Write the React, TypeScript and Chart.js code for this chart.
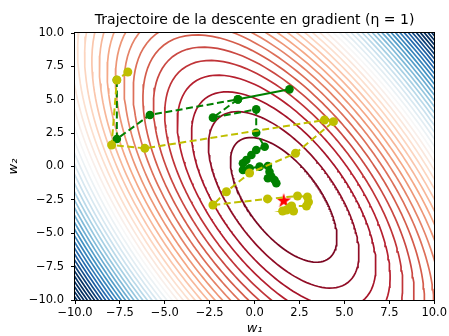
import React, { useEffect, useRef } from 'react';
import { Chart, registerables } from 'chart.js';

Chart.register(...registerables);

// ---- text ----
const TITLE = 'Trajectoire de la descente en gradient (η = 1)';
const X_LABEL = 'w₁';
const Y_LABEL = 'w₂';
const X_TICKS = [-10, -7.5, -5, -2.5, 0, 2.5, 5, 7.5, 10];
const Y_TICKS = [-10, -7.5, -5, -2.5, 0, 2.5, 5, 7.5, 10];

// ---- cost surface: f(w) = A dx^2 + 2B dx dy + C dy^2 around the minimum ----
const MIN_W1 = [1.62];
const MIN_W2 = [-2.5];
const COST_A = 0.184;
const COST_B = 0.072;
const COST_C = 0.074;
const LEVELS = [1, 2, 3, 4, 5, 6, 7, 8, 9, 10, 11, 12, 13, 14, 15, 16, 17, 18, 19, 20,
  21, 22, 23, 24, 25, 26, 27, 28, 29, 30, 31, 32, 33, 34, 35, 36, 37, 38, 39, 40, 41, 42];
const LEVEL_MIN = 0;
const LEVEL_MAX = 36;

// ---- trajectories ----
const GREEN_W1 = [-7.67, -7.67, -5.83, -0.93, 1.94, -0.93, -2.32, 0.09, 0.09,
  0.56, 0.09, -0.18, -0.46, -0.65, -0.65, -0.28, 0.28, 0.74, 0.83, 0.74, 0.93, 1.11, 1.21];
const GREEN_W2 = [6.48, 2.06, 3.86, 5.03, 5.78, 5.03, 3.66, 4.28, 2.53,
  1.48, 1.24, 0.86, 0.49, 0.24, -0.26, -0.13, -0.01, 0.04, -0.39, -0.88, -0.76, -1.01, -1.26];

const YELLOW_W1 = [-7.06, -7.67, -7.96, -6.11, 3.89, 4.39, 2.28, -0.28, -1.57, -2.32,
  0.72, 2.39, 2.94, 3.0, 2.89, 2.06, 1.78, 1.56, 2.17, 1.94];
const YELLOW_W2 = [7.08, 6.48, 1.61, 1.36, 3.48, 3.36, 0.99, -0.49, -1.89, -2.88,
  -2.43, -2.21, -2.28, -2.66, -2.96, -2.96, -3.26, -3.33, -3.33, -3.11];

// ---- colours ----
const RDBU = ['#67001f', '#b2182b', '#d6604d', '#f4a582', '#fddbc7', '#f7f7f7',
  '#d1e5f0', '#92c5de', '#4393c3', '#2166ac', '#053061'];
const GREEN = '#008000';
const YELLOW = '#bfbf00';
const STAR_RED = '#ff0000';

function hexToRgb(h: string) {
  return [parseInt(h.slice(1, 3), 16), parseInt(h.slice(3, 5), 16), parseInt(h.slice(5, 7), 16)];
}
function rdbu(t: number) {
  const tt = Math.min(1, Math.max(0, t)) * (RDBU.length - 1);
  const i = Math.min(RDBU.length - 2, Math.floor(tt));
  const f = tt - i;
  const a = hexToRgb(RDBU[i]);
  const b = hexToRgb(RDBU[i + 1]);
  const c = a.map((v, k) => Math.round(v + (b[k] - v) * f));
  return `rgb(${c[0]},${c[1]},${c[2]})`;
}

function contourRing(level: number) {
  const pts: { x: number; y: number }[] = [];
  const n = 240;
  for (let i = 0; i <= n; i++) {
    const th = (i / n) * Math.PI * 2;
    const c = Math.cos(th);
    const s = Math.sin(th);
    const q = COST_A * c * c + 2 * COST_B * c * s + COST_C * s * s;
    const r = Math.sqrt(level / q);
    pts.push({ x: MIN_W1[0] + r * c, y: MIN_W2[0] + r * s });
  }
  return pts;
}

function makeStar() {
  const cv = document.createElement('canvas');
  const size = 18;
  cv.width = size;
  cv.height = size;
  const ctx = cv.getContext('2d')!;
  const R = 7.8;
  const r = R * 0.382;
  ctx.beginPath();
  for (let i = 0; i < 10; i++) {
    const rad = i % 2 === 0 ? R : r;
    const ang = -Math.PI / 2 + (i * Math.PI) / 5;
    const x = size / 2 + rad * Math.cos(ang);
    const y = size / 2 + 1 + rad * Math.sin(ang);
    if (i === 0) ctx.moveTo(x, y);
    else ctx.lineTo(x, y);
  }
  ctx.closePath();
  ctx.fillStyle = STAR_RED;
  ctx.fill();
  return cv;
}

const fmt = (v: number) => Number(v).toFixed(1).replace('-', '\u2212');

const framePlugin = {
  id: 'frame',
  afterDraw(chart: any) {
    const { ctx, chartArea } = chart;
    ctx.save();
    ctx.strokeStyle = '#000';
    ctx.lineWidth = 1;
    ctx.strokeRect(Math.round(chartArea.left) - 0.5, Math.round(chartArea.top) - 0.5,
      Math.round(chartArea.right - chartArea.left) + 1, Math.round(chartArea.bottom - chartArea.top) + 1);
    ctx.restore();
  },
};

export default function App() {
  const ref = useRef<HTMLCanvasElement | null>(null);

  useEffect(() => {
    document.body.style.margin = '0';
    if (!ref.current) return;
    Chart.defaults.font.family = 'DejaVu Sans';

    const contourSets = LEVELS.map((lv) => ({
      label: 'level ' + lv,
      data: contourRing(lv),
      showLine: true,
      borderColor: rdbu((lv - LEVEL_MIN) / (LEVEL_MAX - LEVEL_MIN)),
      borderWidth: 1.7,
      pointRadius: 0,
      pointHoverRadius: 0,
      tension: 0,
      fill: false,
      order: 10,
      clip: 0,
    }));

    const green = {
      label: 'green',
      data: GREEN_W1.map((x, i) => ({ x, y: GREEN_W2[i] })),
      showLine: true,
      borderColor: GREEN,
      backgroundColor: GREEN,
      borderWidth: 2,
      borderDash: [7, 3.5],
      segment: {
        borderDash: (c: any) => (c.p0DataIndex === 3 || c.p0DataIndex === 4 ? [] : [7, 3.5]),
      },
      pointRadius: 4.3,
      pointBorderWidth: 0,
      pointBackgroundColor: GREEN,
      order: 3,
      clip: 0,
    };

    const star = {
      label: 'min',
      data: MIN_W1.map((x, i) => ({ x, y: MIN_W2[i] })),
      showLine: false,
      pointStyle: makeStar(),
      pointRadius: 8,
      order: 2,
      clip: 0,
    };

    const yellow = {
      label: 'yellow',
      data: YELLOW_W1.map((x, i) => ({ x, y: YELLOW_W2[i] })),
      showLine: true,
      borderColor: YELLOW,
      backgroundColor: YELLOW,
      borderWidth: 2,
      borderDash: [7, 3.5],
      pointRadius: 4.5,
      pointBorderWidth: 0,
      pointBackgroundColor: YELLOW,
      order: 1,
      clip: 0,
    };

    const chart = new Chart(ref.current, {
      type: 'scatter',
      data: { datasets: [...contourSets, green, star, yellow] as any },
      options: {
        animation: false,
        responsive: false,
        devicePixelRatio: 1,
        events: [],
        layout: { padding: { left: 0, right: 14, top: 0, bottom: 0 } },
        plugins: {
          legend: { display: false },
          tooltip: { enabled: false },
          title: {
            display: true,
            text: TITLE,
            fullSize: false,
            color: '#000',
            font: { family: 'DejaVu Sans', size: 14, weight: 'normal', lineHeight: 1.2 },
            padding: { top: 11.6, bottom: 4.6 },
          },
        },
        scales: {
          x: {
            type: 'linear',
            min: -10,
            max: 10,
            afterBuildTicks: (s: any) => {
              s.ticks = X_TICKS.map((v) => ({ value: v }));
            },
            afterFit: (s: any) => {
              s.height = 36;
            },
            ticks: {
              callback: (v: any) => fmt(v),
              color: '#000',
              font: { family: 'DejaVu Sans', size: 11.5 },
              padding: 2,
              maxRotation: 0,
              autoSkip: false,
            },
            grid: { drawOnChartArea: false, drawTicks: true, tickLength: 4, color: '#000' },
            border: { display: false },
            title: {
              display: true,
              text: X_LABEL,
              color: '#000',
              font: { family: 'DejaVu Sans', size: 13, style: 'italic', lineHeight: 1.2 },
              padding: { top: 0, bottom: 0 },
            },
          },
          y: {
            type: 'linear',
            min: -10,
            max: 10,
            afterBuildTicks: (s: any) => {
              s.ticks = Y_TICKS.map((v) => ({ value: v }));
            },
            afterFit: (s: any) => {
              s.width = 75;
            },
            ticks: {
              callback: (v: any) => fmt(v),
              color: '#000',
              font: { family: 'DejaVu Sans', size: 11.5 },
              padding: 7,
              autoSkip: false,
            },
            grid: { drawOnChartArea: false, drawTicks: true, tickLength: 4, color: '#000' },
            border: { display: false },
            title: {
              display: true,
              text: Y_LABEL,
              color: '#000',
              font: { family: 'DejaVu Sans', size: 13, style: 'italic', lineHeight: 1.2 },
              padding: { top: 5.7, bottom: 0 },
            },
          },
        },
      },
      plugins: [framePlugin],
    });

    return () => chart.destroy();
  }, []);

  return (
    <div style={{ width: 449, height: 336, background: '#fff' }}>
      <canvas ref={ref} width={449} height={336} style={{ display: 'block' }} />
    </div>
  );
}
